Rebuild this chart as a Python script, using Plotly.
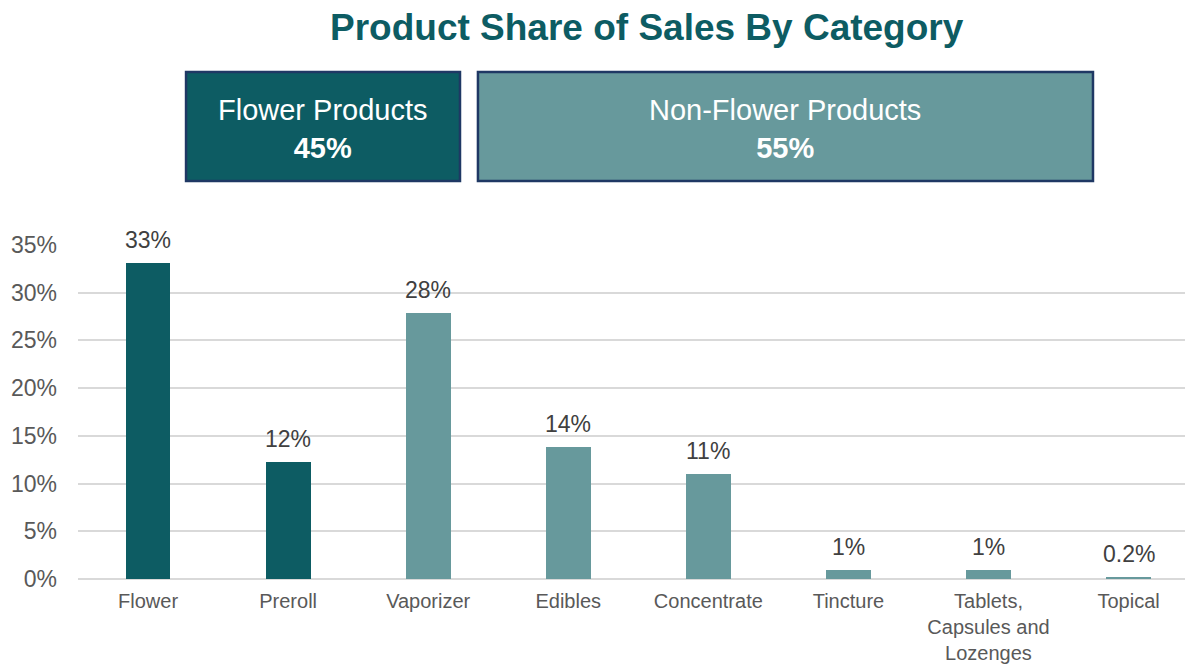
import plotly.graph_objects as go

# bar chart data
categories = ["Flower", "Preroll", "Vaporizer", "Edibles", "Concentrate",
              "Tincture", "Tablets,<br>Capsules and<br>Lozenges", "Topical"]
shares = [0.331, 0.123, 0.279, 0.138, 0.110, 0.009, 0.009, 0.002]
share_labels = ["33%", "12%", "28%", "14%", "11%", "1%", "1%", "0.2%"]
is_flower = [True, True, False, False, False, False, False, False]

# summary boxes
group_names = ["Flower Products", "Non-Flower Products"]
group_shares = ["45%", "55%"]

DARK = "#0d5c63"
LIGHT = "#67999c"
BORDER = "#1f3864"
FONT = "Liberation Sans, Arial"

bar_colors = [DARK if f else LIGHT for f in is_flower]

fig = go.Figure()
fig.add_trace(go.Bar(
    x=categories, y=shares,
    marker=dict(color=bar_colors, line=dict(width=0)),
    width=0.32,
    hoverinfo="skip",
))

# value labels above the bars
for c, v, lab in zip(categories, shares, share_labels):
    fig.add_annotation(x=c, y=v, text=lab, showarrow=False,
                       xanchor="center", yanchor="bottom", yshift=8,
                       font=dict(size=23, color="#404040", family=FONT))

# boxes above the chart (paper coords)
box_x = [(0.0969, 0.3426), (0.3587, 0.9103)]
box_fill = [DARK, LIGHT]
for (x0, x1), fill, name, val in zip(box_x, box_fill, group_names, group_shares):
    fig.add_shape(type="rect", xref="paper", yref="paper",
                  x0=x0, x1=x1, y0=1.1916, y1=1.518,
                  fillcolor=fill, line=dict(color=BORDER, width=2.5))
    fig.add_annotation(xref="paper", yref="paper",
                       x=(x0 + x1) / 2, y=1.347,
                       xanchor="center", yanchor="middle",
                       text=f"{name}<br><b>{val}</b>", showarrow=False,
                       font=dict(size=29, color="white", family=FONT),
                       align="center")

fig.add_annotation(xref="paper", yref="paper", x=0.510, y=1.65,
                   xanchor="center", yanchor="middle",
                   text="<b>Product Share of Sales By Category</b>", showarrow=False,
                   font=dict(size=37, color=DARK, family=FONT))

# page has an 8px body margin, so the figure is sized to fit the window
fig.update_layout(
    width=1185, height=656,
    margin=dict(l=70, r=0, t=237, b=85),
    plot_bgcolor="white", paper_bgcolor="white",
    showlegend=False,
    font=dict(family=FONT, color="#595959"),
    bargap=0,
)
fig.update_xaxes(range=[-0.5, 7.46], showgrid=False, showline=False, automargin=False,
                 tickfont=dict(size=20, color="#595959"), ticklabelstandoff=8)
fig.update_yaxes(range=[0, 0.35], tickvals=[0, 0.05, 0.1, 0.15, 0.2, 0.25, 0.3, 0.35],
                 tickformat=".0%", showgrid=True, gridcolor="#d9d9d9", gridwidth=1.5,
                 zeroline=True, zerolinecolor="#d9d9d9", zerolinewidth=1.5,
                 automargin=False,
                 tickfont=dict(size=23, color="#595959"), ticklabelstandoff=20)

fig.write_html("out.html")
